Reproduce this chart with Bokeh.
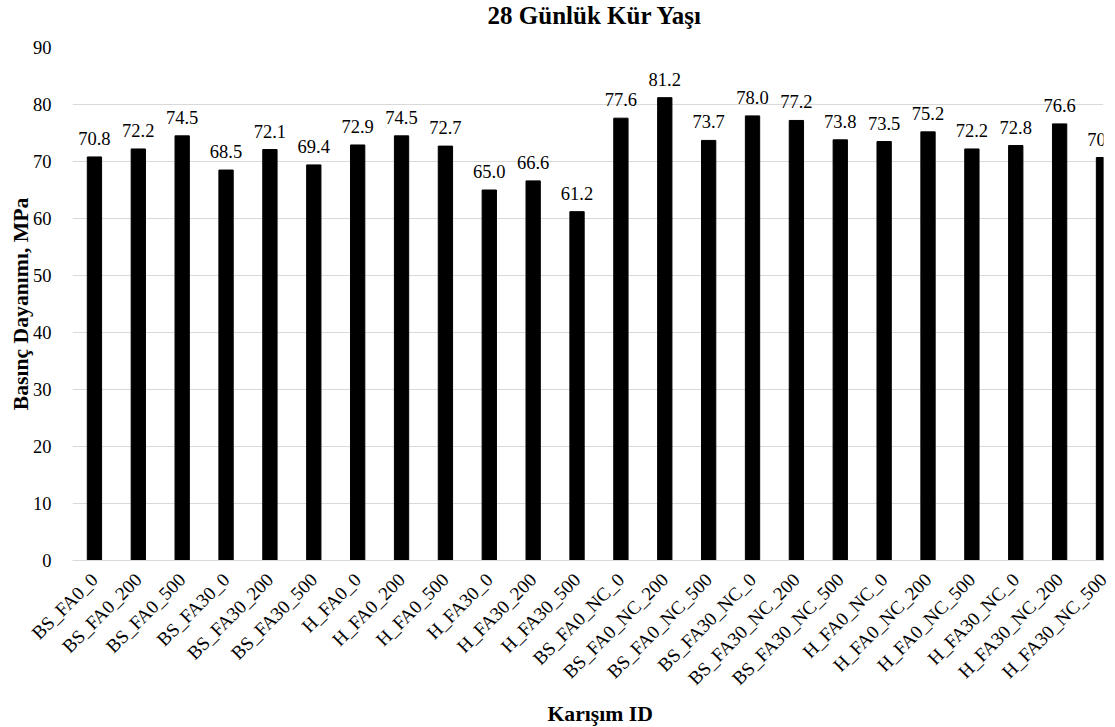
import math

from bokeh.core.properties import value
from bokeh.embed import file_html
from bokeh.layouts import column
from bokeh.models import ColumnDataSource, FixedTicker, Range1d, Title
from bokeh.plotting import figure
from bokeh.resources import INLINE

# Mix identifiers (x categories)
mixes = [
    "BS_FA0_0", "BS_FA0_200", "BS_FA0_500",
    "BS_FA30_0", "BS_FA30_200", "BS_FA30_500",
    "H_FA0_0", "H_FA0_200", "H_FA0_500",
    "H_FA30_0", "H_FA30_200", "H_FA30_500",
    "BS_FA0_NC_0", "BS_FA0_NC_200", "BS_FA0_NC_500",
    "BS_FA30_NC_0", "BS_FA30_NC_200", "BS_FA30_NC_500",
    "H_FA0_NC_0", "H_FA0_NC_200", "H_FA0_NC_500",
    "H_FA30_NC_0", "H_FA30_NC_200", "H_FA30_NC_500",
]

# 28-day compressive strength, MPa
strength = [
    70.8, 72.2, 74.5,
    68.5, 72.1, 69.4,
    72.9, 74.5, 72.7,
    65.0, 66.6, 61.2,
    77.6, 81.2, 73.7,
    78.0, 77.2, 73.8,
    73.5, 75.2, 72.2,
    72.8, 76.6, 70.7,
]

y_ticks = [0, 10, 20, 30, 40, 50, 60, 70, 80, 90]

chart_title = "28 Günlük Kür Yaşı"
x_title = "Karışım ID"
y_title = "Basınç Dayanımı, MPa"

SERIF = "Liberation Serif"
WIDTH = 1115
HEADER_H = 30

# ---- header strip carrying the chart title ----
head = figure(
    width=WIDTH, height=HEADER_H,
    output_backend="svg", toolbar_location=None,
    x_range=Range1d(0, WIDTH), y_range=Range1d(0, HEADER_H),
    x_axis_location=None, y_axis_location=None,
    min_border=0, min_border_left=0, min_border_right=0,
    min_border_top=0, min_border_bottom=0,
    background_fill_color="white", border_fill_color="white",
)
head.outline_line_color = None
head.grid.visible = False
head.text(x=[565], y=[HEADER_H - 15], text=[chart_title],
          text_align="center", text_baseline="middle",
          text_font=value(SERIF), text_font_style="bold",
          text_font_size="25px", text_color="black")

# ---- main bar chart ----
xs = list(range(len(mixes)))
src = ColumnDataSource(dict(
    x=xs,
    top=strength,
    label=[f"{v:.1f}" for v in strength],
))

p = figure(
    width=WIDTH, height=727 - HEADER_H,
    output_backend="svg", toolbar_location=None,
    x_range=Range1d(-0.5, 23.0), y_range=Range1d(0, 90),
    min_border_left=72, min_border_right=12,
    min_border_top=47 - HEADER_H, min_border_bottom=167,
    background_fill_color="white", border_fill_color="white",
)
p.outline_line_color = None

# Bars and value labels
p.vbar(x="x", top="top", width=0.326, source=src,
       fill_color="black", line_color="black")
p.text(x="x", y="top", text="label", source=src,
       text_align="center", text_baseline="bottom", y_offset=-12,
       text_font=value(SERIF), text_font_size="18.5px", text_color="black")

# Y axis
yax = p.yaxis[0]
yax.ticker = FixedTicker(ticks=y_ticks)
yax.axis_line_color = None
yax.major_tick_line_color = None
yax.minor_tick_line_color = None
yax.major_label_standoff = 15
yax.major_label_text_font = SERIF
yax.major_label_text_font_size = "18.5px"
yax.major_label_text_color = "black"
yax.axis_label = y_title
yax.axis_label_text_font = SERIF
yax.axis_label_text_font_style = "bold"
yax.axis_label_text_font_size = "21.7px"
yax.axis_label_text_color = "black"
yax.axis_label_standoff = -3

# X axis
xax = p.xaxis[0]
xax.ticker = FixedTicker(ticks=xs)
xax.major_label_overrides = {i: m for i, m in zip(xs, mixes)}
xax.major_label_orientation = math.pi / 4
xax.axis_line_color = "#d9d9d9"
xax.axis_line_width = 1
xax.major_tick_line_color = None
xax.minor_tick_line_color = None
xax.major_label_standoff = 10
xax.major_label_text_font = SERIF
xax.major_label_text_font_size = "19px"
xax.major_label_text_color = "black"

# X axis title
p.add_layout(Title(text=x_title, align="left", offset=475,
                   text_font=SERIF, text_font_style="bold",
                   text_font_size="21.7px", text_color="black",
                   standoff=0), "below")

# Grid
p.xgrid.grid_line_color = None
p.ygrid.ticker = FixedTicker(ticks=y_ticks)
p.ygrid.grid_line_color = "#d9d9d9"
p.ygrid.grid_line_width = 1

page = column(head, p, spacing=0)
open("out.html", "w").write(file_html(page, INLINE))
